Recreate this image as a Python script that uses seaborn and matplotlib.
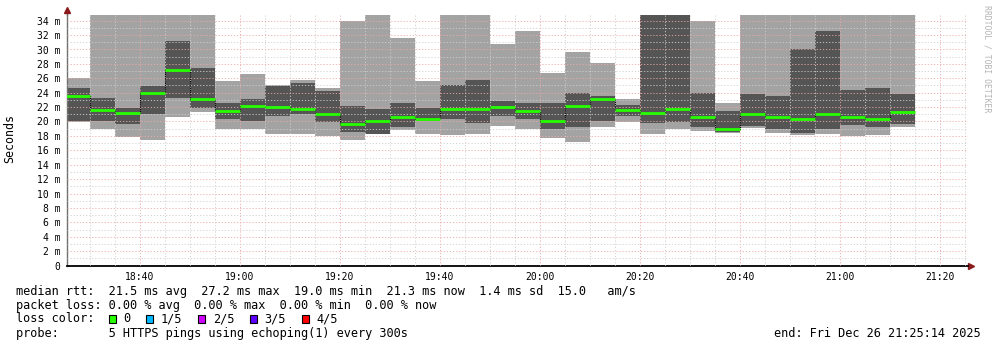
import numpy as np
import pandas as pd
import matplotlib
matplotlib.use("Agg")
import matplotlib.pyplot as plt
import seaborn as sns
from matplotlib.patches import Rectangle
from matplotlib.ticker import MultipleLocator

# ---------------- data (ms) ----------------
slots = ["18:25", "18:30", "18:35", "18:40", "18:45", "18:50", "18:55",
         "19:00", "19:05", "19:10", "19:15", "19:20", "19:25", "19:30",
         "19:35", "19:40", "19:45", "19:50", "19:55", "20:00", "20:05",
         "20:10", "20:15", "20:20", "20:25", "20:30", "20:35", "20:40",
         "20:45", "20:50", "20:55", "21:00", "21:05", "21:10"]

ping_max = [26.0, 35.0, 35.0, 35.0, 35.0, 35.0, 25.6, 26.6, 25.1, 25.8, 24.7, 34.0,
            35.0, 31.6, 25.6, 35.0, 35.0, 30.7, 32.5, 26.8, 29.6, 28.1, 23.1, 35.0,
            35.0, 34.0, 22.5, 35.0, 35.0, 35.0, 35.0, 35.0, 35.0, 35.0]
ping_hi = [24.7, 23.3, 21.9, 24.9, 31.2, 27.4, 22.5, 23.1, 24.9, 25.4, 24.2, 22.2,
           21.7, 22.6, 21.9, 25.1, 25.7, 22.9, 22.6, 22.6, 24.0, 23.6, 22.3, 35.0,
           35.0, 24.0, 21.5, 23.8, 23.6, 30.1, 32.5, 24.4, 24.6, 23.8]
median = [23.5, 21.6, 21.2, 23.9, 27.2, 23.1, 21.4, 22.2, 22.0, 21.7, 21.0, 19.6,
          20.0, 20.6, 20.4, 21.7, 21.8, 22.0, 21.4, 20.1, 22.1, 23.1, 21.6, 21.2,
          21.7, 20.6, 19.0, 21.0, 20.6, 20.4, 21.1, 20.6, 20.4, 21.3]
ping_lo = [20.1, 20.0, 19.6, 21.0, 23.3, 21.9, 20.3, 20.1, 20.7, 21.0, 19.9, 18.6,
           18.3, 19.2, 20.1, 20.3, 19.8, 20.7, 20.3, 19.0, 19.2, 20.0, 20.8, 19.8,
           19.9, 19.2, 18.5, 19.4, 18.9, 18.4, 18.9, 19.5, 19.2, 19.7]
ping_min = [19.9, 19.0, 17.8, 17.5, 20.6, 21.3, 19.0, 18.9, 18.3, 18.2, 18.0, 17.5,
            18.2, 18.8, 18.3, 18.1, 18.2, 19.4, 19.0, 17.7, 17.2, 19.2, 19.9, 18.3,
            19.0, 18.7, 18.4, 19.1, 18.4, 18.1, 18.2, 18.0, 18.1, 19.2]

xtick_labels = ["18:40", "19:00", "19:20", "19:40", "20:00", "20:20", "20:40", "21:00", "21:20"]
ytick_labels = ["0", "2 m", "4 m", "6 m", "8 m", "10 m", "12 m", "14 m", "16 m", "18 m",
                "20 m", "22 m", "24 m", "26 m", "28 m", "30 m", "32 m", "34 m"]

loss_labels = ["0", "1/5", "2/5", "3/5", "4/5"]
loss_colors = ["#26ff00", "#00b8ff", "#d000ff", "#5e00ff", "#ff0000"]

legend_lines = [
    "median rtt:  21.5 ms avg  27.2 ms max  19.0 ms min  21.3 ms now  1.4 ms sd  15.0   am/s",
    "packet loss: 0.00 % avg  0.00 % max  0.00 % min  0.00 % now",
    "loss color:",
    "probe:       5 HTTPS pings using echoping(1) every 300s",
]
end_text = "end: Fri Dec 26 21:25:14 2025"
step_min = 5  # 300 s probe interval


def to_min(s):
    h, m = s.split(":")
    return (int(h) - 18) * 60 + int(m)


# ---------------- figure ----------------
sns.set_style("white")
plt.rcParams['font.family'] = ['DejaVu Sans Mono', 'DejaVu Sans']

W, H = 997, 347
fig = plt.figure(figsize=(W / 100, H / 100), dpi=100)
L, R, T, B = 66.7, 968.0, 14.5, 265.5
ax = fig.add_axes([L / W, 1 - B / H, (R - L) / W, (B - T) / H])

x = np.array([to_min(s) for s in slots], dtype=float)
pmax, phi, pmed, plo, pmin = map(np.array, (ping_max, ping_hi, median, ping_lo, ping_min))

ax.bar(x, pmax - pmin, bottom=pmin, width=step_min, align='edge',
       color='#a3a3a3', linewidth=0, zorder=1)
ax.bar(x, phi - plo, bottom=plo, width=step_min, align='edge',
       color='#555555', linewidth=0, zorder=1.1)

df = pd.DataFrame({"t": x, "median": pmed})
sns.lineplot(data=df, x="t", y="median", drawstyle="steps-post", color="black",
             linestyle=(0, (1, 1)), linewidth=0.8, ax=ax, zorder=2.6, legend=False,
             sort=False)
ax.hlines(pmed, x, x + step_min, colors=loss_colors[0], linewidth=2.0, zorder=3)

ymax = (B - T) / 7.2
ax.set_ylim(0, ymax)
x18_40 = to_min("18:40")
ax.set_xlim(x18_40 - (140 - L) / 5, x18_40 + (R - 140) / 5)

ax.set_xticks([to_min(s) for s in xtick_labels])
ax.set_xticklabels(xtick_labels)
ax.set_yticks([int(s.split()[0]) for s in ytick_labels])
ax.set_yticklabels(ytick_labels)
ax.xaxis.set_minor_locator(MultipleLocator(5))
ax.yaxis.set_minor_locator(MultipleLocator(1))

ax.set_axisbelow(False)
ax.grid(which='major', color='#eca8a8', linestyle=(0, (1.5, 2.2)), linewidth=0.6)
ax.grid(which='minor', color='#cfcfcf', linestyle=(0, (1.5, 2.2)), linewidth=0.6)

ax.tick_params(axis='both', which='major', length=2, width=0.8, color='#808080',
               labelsize=7, pad=2.5, labelcolor='black')
ax.tick_params(axis='both', which='minor', length=0)
ax.set_xlabel("")
ax.set_ylabel("")

for s in ('top', 'right'):
    ax.spines[s].set_visible(False)
ax.spines['left'].set_color('#707070')
ax.spines['left'].set_linewidth(1.0)
ax.spines['bottom'].set_color('black')
ax.spines['bottom'].set_linewidth(1.3)

# axis arrows
ax.plot([0, 0], [1.0, (B - 11) / (B - T)], transform=ax.transAxes, color='#707070',
        linewidth=1.0, clip_on=False)
ax.plot([0], [(B - 10) / (B - T)], marker='^', markersize=4.5, color='#8b1a1a',
        transform=ax.transAxes, clip_on=False, linestyle='none')
ax.plot([(971 - L) / (R - L)], [0], marker='>', markersize=4.5, color='#8b1a1a',
        transform=ax.transAxes, clip_on=False, linestyle='none')

# side labels
fig.text(10 / W, 1 - 139 / H, "Seconds", rotation=90, ha='center', va='center',
         fontsize=8.4, color='black')
fig.text(987 / W, 1 - 59 / H, "RRDTOOL / TOBI OETIKER", rotation=270, ha='center',
         va='center', fontsize=5.9, color='#b4b4b4')

# legend
cw = 7.1
x0 = 16.0
line_y = [291.5, 305.5, 319.0, 333.5]
for txt, yy in zip(legend_lines, line_y):
    fig.text(x0 / W, 1 - yy / H, txt, ha='left', va='center', fontsize=8.55, color='black')

pos = 13.0
for lab, col in zip(loss_labels, loss_colors):
    bx = x0 + pos * cw + 0.5
    fig.add_artist(Rectangle((bx / W, 1 - 323 / H), 7 / W, 8 / H, transform=fig.transFigure,
                             facecolor=col, edgecolor='black', linewidth=0.8))
    tpos = pos + 2.1
    fig.text((x0 + tpos * cw) / W, 1 - line_y[2] / H, lab, ha='left', va='center',
             fontsize=8.55, color='black')
    pos = tpos + len(lab) + 2.2

fig.text(981 / W, 1 - 333.5 / H, end_text, ha='right', va='center', fontsize=8.55, color='black')

fig.savefig("out.png", dpi=100)
